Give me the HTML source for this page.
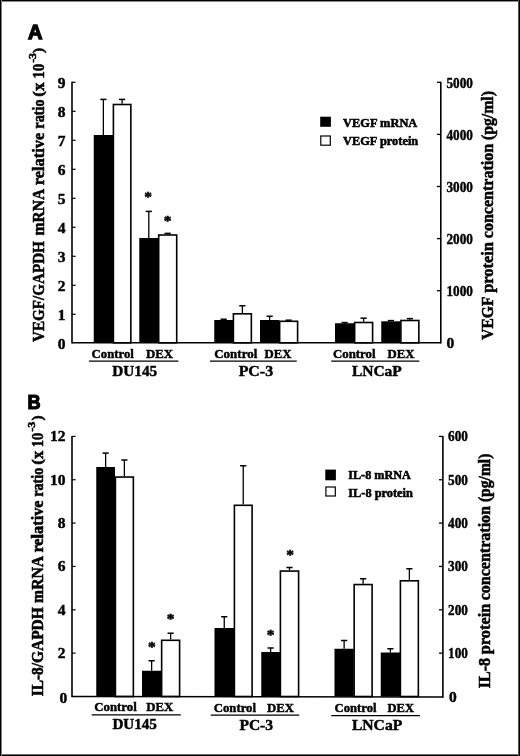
<!DOCTYPE html>
<html lang="en"><head><meta charset="utf-8"><title>Figure</title>
<style>html,body{margin:0;padding:0;background:#fff}svg{display:block;filter:grayscale(1)}text{fill:#000;stroke:#000;stroke-width:0.45px}</style></head><body>
<svg width="520" height="756" viewBox="0 0 520 756">
<rect x="0" y="0" width="520" height="756" fill="#fff"/>
<line x1="103.375" y1="99.4" x2="103.375" y2="135" stroke="#000" stroke-width="1.3"/>
<line x1="100.275" y1="99.4" x2="106.475" y2="99.4" stroke="#000" stroke-width="1.5"/>
<line x1="122.125" y1="99.4" x2="122.125" y2="103.7" stroke="#000" stroke-width="1.3"/>
<line x1="119.025" y1="99.4" x2="125.225" y2="99.4" stroke="#000" stroke-width="1.5"/>
<rect x="93.75" y="135" width="19.25" height="207.8" fill="#000"/>
<rect x="113.4" y="104.5" width="17.45" height="238.3" fill="#fff" stroke="#000" stroke-width="1.6"/>
<line x1="148.8" y1="211.4" x2="148.8" y2="238" stroke="#000" stroke-width="1.3"/>
<line x1="145.70000000000002" y1="211.4" x2="151.9" y2="211.4" stroke="#000" stroke-width="1.5"/>
<line x1="167.7" y1="233.4" x2="167.7" y2="234.2" stroke="#000" stroke-width="1.3"/>
<line x1="164.6" y1="233.4" x2="170.79999999999998" y2="233.4" stroke="#000" stroke-width="1.5"/>
<rect x="139.3" y="238" width="19.0" height="104.8" fill="#000"/>
<rect x="158.7" y="235.0" width="18.0" height="107.8" fill="#fff" stroke="#000" stroke-width="1.6"/>
<line x1="223.625" y1="319.25" x2="223.625" y2="320" stroke="#000" stroke-width="1.3"/>
<line x1="220.525" y1="319.25" x2="226.725" y2="319.25" stroke="#000" stroke-width="1.5"/>
<line x1="242.375" y1="305.75" x2="242.375" y2="313" stroke="#000" stroke-width="1.3"/>
<line x1="239.275" y1="305.75" x2="245.475" y2="305.75" stroke="#000" stroke-width="1.5"/>
<rect x="214.25" y="320" width="18.75" height="22.8" fill="#000"/>
<rect x="233.4" y="313.8" width="17.95" height="29.0" fill="#fff" stroke="#000" stroke-width="1.6"/>
<line x1="269.625" y1="316.25" x2="269.625" y2="320" stroke="#000" stroke-width="1.3"/>
<line x1="266.525" y1="316.25" x2="272.725" y2="316.25" stroke="#000" stroke-width="1.5"/>
<line x1="285.525" y1="320.2" x2="291.725" y2="320.2" stroke="#000" stroke-width="1.5"/>
<rect x="260" y="320" width="19.25" height="22.8" fill="#000"/>
<rect x="279.65" y="321.3" width="17.95" height="21.5" fill="#fff" stroke="#000" stroke-width="1.6"/>
<line x1="344.625" y1="322.6" x2="344.625" y2="323.25" stroke="#000" stroke-width="1.3"/>
<line x1="341.525" y1="322.6" x2="347.725" y2="322.6" stroke="#000" stroke-width="1.5"/>
<line x1="363.625" y1="318.2" x2="363.625" y2="321.7" stroke="#000" stroke-width="1.3"/>
<line x1="360.525" y1="318.2" x2="366.725" y2="318.2" stroke="#000" stroke-width="1.5"/>
<rect x="335" y="323.25" width="19.25" height="19.55" fill="#000"/>
<rect x="354.65" y="322.5" width="17.95" height="20.3" fill="#fff" stroke="#000" stroke-width="1.6"/>
<line x1="390.875" y1="320.6" x2="390.875" y2="321.3" stroke="#000" stroke-width="1.3"/>
<line x1="387.775" y1="320.6" x2="393.975" y2="320.6" stroke="#000" stroke-width="1.5"/>
<line x1="409.875" y1="318.6" x2="409.875" y2="319.7" stroke="#000" stroke-width="1.3"/>
<line x1="406.775" y1="318.6" x2="412.975" y2="318.6" stroke="#000" stroke-width="1.5"/>
<rect x="381.25" y="321.3" width="19.25" height="21.5" fill="#000"/>
<rect x="400.9" y="320.5" width="17.95" height="22.3" fill="#fff" stroke="#000" stroke-width="1.6"/>
<line x1="72.0" y1="81.8" x2="72.0" y2="343.5" stroke="#000" stroke-width="1.6"/>
<line x1="440.8" y1="81.8" x2="440.8" y2="343.5" stroke="#000" stroke-width="1.6"/>
<line x1="72.0" y1="342.8" x2="440.8" y2="342.8" stroke="#000" stroke-width="1.5"/>
<text x="65.5" y="349.29" font-family="'Liberation Serif','DejaVu Serif',serif" font-size="15.5" font-weight="bold" text-anchor="end" >0</text>
<line x1="72.0" y1="314.3" x2="75.6" y2="314.3" stroke="#000" stroke-width="1.2"/>
<text x="65.5" y="320.23" font-family="'Liberation Serif','DejaVu Serif',serif" font-size="15.5" font-weight="bold" text-anchor="end" >1</text>
<line x1="72.0" y1="285.3" x2="75.6" y2="285.3" stroke="#000" stroke-width="1.2"/>
<text x="65.5" y="291.17" font-family="'Liberation Serif','DejaVu Serif',serif" font-size="15.5" font-weight="bold" text-anchor="end" >2</text>
<line x1="72.0" y1="256.3" x2="75.6" y2="256.3" stroke="#000" stroke-width="1.2"/>
<text x="65.5" y="262.11" font-family="'Liberation Serif','DejaVu Serif',serif" font-size="15.5" font-weight="bold" text-anchor="end" >3</text>
<line x1="72.0" y1="227.3" x2="75.6" y2="227.3" stroke="#000" stroke-width="1.2"/>
<text x="65.5" y="233.05" font-family="'Liberation Serif','DejaVu Serif',serif" font-size="15.5" font-weight="bold" text-anchor="end" >4</text>
<line x1="72.0" y1="198.3" x2="75.6" y2="198.3" stroke="#000" stroke-width="1.2"/>
<text x="65.5" y="203.99" font-family="'Liberation Serif','DejaVu Serif',serif" font-size="15.5" font-weight="bold" text-anchor="end" >5</text>
<line x1="72.0" y1="169.3" x2="75.6" y2="169.3" stroke="#000" stroke-width="1.2"/>
<text x="65.5" y="174.93" font-family="'Liberation Serif','DejaVu Serif',serif" font-size="15.5" font-weight="bold" text-anchor="end" >6</text>
<line x1="72.0" y1="140.3" x2="75.6" y2="140.3" stroke="#000" stroke-width="1.2"/>
<text x="65.5" y="145.87" font-family="'Liberation Serif','DejaVu Serif',serif" font-size="15.5" font-weight="bold" text-anchor="end" >7</text>
<line x1="72.0" y1="111.30000000000001" x2="75.6" y2="111.30000000000001" stroke="#000" stroke-width="1.2"/>
<text x="65.5" y="116.81" font-family="'Liberation Serif','DejaVu Serif',serif" font-size="15.5" font-weight="bold" text-anchor="end" >8</text>
<line x1="72.0" y1="82.30000000000001" x2="75.6" y2="82.30000000000001" stroke="#000" stroke-width="1.2"/>
<text x="65.5" y="87.75" font-family="'Liberation Serif','DejaVu Serif',serif" font-size="15.5" font-weight="bold" text-anchor="end" >9</text>
<text x="446.5" y="348.0" font-family="'Liberation Serif','DejaVu Serif',serif" font-size="15.5" font-weight="bold" text-anchor="start" >0</text>
<line x1="436.90000000000003" y1="290.7" x2="440.8" y2="290.7" stroke="#000" stroke-width="1.3"/>
<text x="446.5" y="295.9" font-family="'Liberation Serif','DejaVu Serif',serif" font-size="15.5" font-weight="bold" text-anchor="start" textLength="26.4" lengthAdjust="spacingAndGlyphs" >1000</text>
<line x1="436.90000000000003" y1="238.60000000000002" x2="440.8" y2="238.60000000000002" stroke="#000" stroke-width="1.3"/>
<text x="446.5" y="243.8" font-family="'Liberation Serif','DejaVu Serif',serif" font-size="15.5" font-weight="bold" text-anchor="start" textLength="26.4" lengthAdjust="spacingAndGlyphs" >2000</text>
<line x1="436.90000000000003" y1="186.5" x2="440.8" y2="186.5" stroke="#000" stroke-width="1.3"/>
<text x="446.5" y="191.7" font-family="'Liberation Serif','DejaVu Serif',serif" font-size="15.5" font-weight="bold" text-anchor="start" textLength="26.4" lengthAdjust="spacingAndGlyphs" >3000</text>
<line x1="436.90000000000003" y1="134.4" x2="440.8" y2="134.4" stroke="#000" stroke-width="1.3"/>
<text x="446.5" y="139.6" font-family="'Liberation Serif','DejaVu Serif',serif" font-size="15.5" font-weight="bold" text-anchor="start" textLength="26.4" lengthAdjust="spacingAndGlyphs" >4000</text>
<line x1="436.90000000000003" y1="82.30000000000001" x2="440.8" y2="82.30000000000001" stroke="#000" stroke-width="1.3"/>
<text x="446.5" y="87.5" font-family="'Liberation Serif','DejaVu Serif',serif" font-size="15.5" font-weight="bold" text-anchor="start" textLength="26.4" lengthAdjust="spacingAndGlyphs" >5000</text>
<text x="91.6" y="357.7" font-family="'Liberation Serif','DejaVu Serif',serif" font-size="13.3" font-weight="bold" text-anchor="start" textLength="42.3" lengthAdjust="spacingAndGlyphs" style="stroke-width:0.45px">Control</text>
<text x="146" y="357.7" font-family="'Liberation Serif','DejaVu Serif',serif" font-size="13.3" font-weight="bold" text-anchor="start" textLength="27.099999999999998" lengthAdjust="spacingAndGlyphs" style="stroke-width:0.45px">DEX</text>
<line x1="88.9" y1="361.1" x2="178.4" y2="361.1" stroke="#000" stroke-width="1.3"/>
<text x="112.2" y="375.6" font-family="'Liberation Serif','DejaVu Serif',serif" font-size="15.0" font-weight="bold" text-anchor="start" textLength="45.0" lengthAdjust="spacingAndGlyphs" style="stroke-width:0.45px">DU145</text>
<text x="214.25" y="357.7" font-family="'Liberation Serif','DejaVu Serif',serif" font-size="13.3" font-weight="bold" text-anchor="start" textLength="43" lengthAdjust="spacingAndGlyphs" style="stroke-width:0.45px">Control</text>
<text x="264.5" y="357.7" font-family="'Liberation Serif','DejaVu Serif',serif" font-size="13.3" font-weight="bold" text-anchor="start" textLength="27.0" lengthAdjust="spacingAndGlyphs" style="stroke-width:0.45px">DEX</text>
<line x1="210" y1="361.1" x2="296.75" y2="361.1" stroke="#000" stroke-width="1.3"/>
<text x="238.65" y="375.6" font-family="'Liberation Serif','DejaVu Serif',serif" font-size="15.0" font-weight="bold" text-anchor="start" textLength="34.45" lengthAdjust="spacingAndGlyphs" style="stroke-width:0.45px">PC-3</text>
<text x="333" y="357.7" font-family="'Liberation Serif','DejaVu Serif',serif" font-size="13.3" font-weight="bold" text-anchor="start" textLength="42.5" lengthAdjust="spacingAndGlyphs" style="stroke-width:0.45px">Control</text>
<text x="387.5" y="357.7" font-family="'Liberation Serif','DejaVu Serif',serif" font-size="13.3" font-weight="bold" text-anchor="start" textLength="27.0" lengthAdjust="spacingAndGlyphs" style="stroke-width:0.45px">DEX</text>
<line x1="331.25" y1="361.1" x2="419.25" y2="361.1" stroke="#000" stroke-width="1.3"/>
<text x="351.9" y="375.6" font-family="'Liberation Serif','DejaVu Serif',serif" font-size="15.0" font-weight="bold" text-anchor="start" textLength="49.95" lengthAdjust="spacingAndGlyphs" style="stroke-width:0.45px">LNCaP</text>
<text x="148.2" y="202.0" font-family="'Liberation Serif','DejaVu Serif',serif" font-size="15.5" font-weight="bold" text-anchor="middle" style="stroke-width:0.5px">*</text>
<text x="167.7" y="225.89999999999998" font-family="'Liberation Serif','DejaVu Serif',serif" font-size="15.5" font-weight="bold" text-anchor="middle" style="stroke-width:0.5px">*</text>
<rect x="320.2" y="116.7" width="10.7" height="10.1" fill="#000"/>
<rect x="320.8" y="136.0" width="9.5" height="9.2" fill="#fff" stroke="#000" stroke-width="1.2"/>
<text x="343" y="127.1" font-family="'Liberation Serif','DejaVu Serif',serif" font-size="13.5" font-weight="bold" text-anchor="start" textLength="74.3" lengthAdjust="spacingAndGlyphs" style="stroke-width:0.55px">VEGF mRNA</text>
<text x="343" y="145.1" font-family="'Liberation Serif','DejaVu Serif',serif" font-size="13.5" font-weight="bold" text-anchor="start" textLength="75.2" lengthAdjust="spacingAndGlyphs" style="stroke-width:0.55px">VEGF protein</text>
<text transform="translate(43.8,341.9) rotate(-90)" font-family="'Liberation Serif','DejaVu Serif',serif" font-size="17" font-weight="bold" text-anchor="start" textLength="100.7" lengthAdjust="spacingAndGlyphs" style="stroke-width:0.55px">VEGF/GAPDH</text>
<text transform="translate(43.8,235.4) rotate(-90)" font-family="'Liberation Serif','DejaVu Serif',serif" font-size="17" font-weight="bold" text-anchor="start" textLength="46.6" lengthAdjust="spacingAndGlyphs" style="stroke-width:0.55px">mRNA</text>
<text transform="translate(43.8,185.3) rotate(-90)" font-family="'Liberation Serif','DejaVu Serif',serif" font-size="17" font-weight="bold" text-anchor="start" textLength="52.5" lengthAdjust="spacingAndGlyphs" style="stroke-width:0.55px">relative</text>
<text transform="translate(43.8,128.7) rotate(-90)" font-family="'Liberation Serif','DejaVu Serif',serif" font-size="17" font-weight="bold" text-anchor="start" textLength="29.4" lengthAdjust="spacingAndGlyphs" style="stroke-width:0.55px">ratio</text>
<text transform="translate(43.05,96.7) rotate(-90)" font-family="'Liberation Serif','DejaVu Serif',serif" font-size="14.5" font-weight="bold" text-anchor="start" textLength="5.6" lengthAdjust="spacingAndGlyphs" style="stroke-width:0.55px">(</text>
<text transform="translate(43.8,91.1) rotate(-90)" font-family="'Liberation Serif','DejaVu Serif',serif" font-size="17" font-weight="bold" text-anchor="start" textLength="8.5" lengthAdjust="spacingAndGlyphs" style="stroke-width:0.55px">x</text>
<text transform="translate(43.8,78.8) rotate(-90)" font-family="'Liberation Serif','DejaVu Serif',serif" font-size="17" font-weight="bold" text-anchor="start" textLength="14.9" lengthAdjust="spacingAndGlyphs" style="stroke-width:0.55px">10</text>
<text transform="translate(36.0,62.8) rotate(-90)" font-family="'Liberation Serif','DejaVu Serif',serif" font-size="11" font-weight="bold" text-anchor="start" textLength="9.8" lengthAdjust="spacingAndGlyphs" style="stroke-width:0.55px">-3</text>
<text transform="translate(43.05,53.0) rotate(-90)" font-family="'Liberation Serif','DejaVu Serif',serif" font-size="14.5" font-weight="bold" text-anchor="start" textLength="5.2" lengthAdjust="spacingAndGlyphs" style="stroke-width:0.55px">)</text>
<text transform="translate(493.2,339.8) rotate(-90)" font-family="'Liberation Serif','DejaVu Serif',serif" font-size="17.5" font-weight="bold" text-anchor="start" textLength="43.3" lengthAdjust="spacingAndGlyphs" style="stroke-width:0.55px">VEGF</text>
<text transform="translate(493.2,292.8) rotate(-90)" font-family="'Liberation Serif','DejaVu Serif',serif" font-size="17.5" font-weight="bold" text-anchor="start" textLength="50.8" lengthAdjust="spacingAndGlyphs" style="stroke-width:0.55px">protein</text>
<text transform="translate(493.2,238.2) rotate(-90)" font-family="'Liberation Serif','DejaVu Serif',serif" font-size="17.5" font-weight="bold" text-anchor="start" textLength="94.3" lengthAdjust="spacingAndGlyphs" style="stroke-width:0.55px">concentration</text>
<text transform="translate(493.2,140.1) rotate(-90)" font-family="'Liberation Serif','DejaVu Serif',serif" font-size="17.5" font-weight="bold" text-anchor="start" textLength="49.1" lengthAdjust="spacingAndGlyphs" style="stroke-width:0.55px">(pg/ml)</text>
<text x="28.0" y="39.4" font-family="'Liberation Sans','DejaVu Sans',sans-serif" font-size="20" font-weight="bold" text-anchor="start" style="stroke-width:1.3px">A</text>
<line x1="105.625" y1="453.1" x2="105.625" y2="467" stroke="#000" stroke-width="1.3"/>
<line x1="102.525" y1="453.1" x2="108.725" y2="453.1" stroke="#000" stroke-width="1.5"/>
<line x1="124.375" y1="460.0" x2="124.375" y2="476.25" stroke="#000" stroke-width="1.3"/>
<line x1="121.275" y1="460.0" x2="127.475" y2="460.0" stroke="#000" stroke-width="1.5"/>
<rect x="96.25" y="467" width="18.75" height="229.5" fill="#000"/>
<rect x="115.4" y="477.05" width="17.95" height="219.45" fill="#fff" stroke="#000" stroke-width="1.6"/>
<line x1="151.625" y1="660.75" x2="151.625" y2="670.75" stroke="#000" stroke-width="1.3"/>
<line x1="148.525" y1="660.75" x2="154.725" y2="660.75" stroke="#000" stroke-width="1.5"/>
<line x1="170.625" y1="633.25" x2="170.625" y2="639.5" stroke="#000" stroke-width="1.3"/>
<line x1="167.525" y1="633.25" x2="173.725" y2="633.25" stroke="#000" stroke-width="1.5"/>
<rect x="142" y="670.75" width="19.25" height="25.75" fill="#000"/>
<rect x="161.65" y="640.3" width="17.95" height="56.2" fill="#fff" stroke="#000" stroke-width="1.6"/>
<line x1="224.25" y1="616.75" x2="224.25" y2="628" stroke="#000" stroke-width="1.3"/>
<line x1="221.15" y1="616.75" x2="227.35" y2="616.75" stroke="#000" stroke-width="1.5"/>
<line x1="243.25" y1="465.75" x2="243.25" y2="504.5" stroke="#000" stroke-width="1.3"/>
<line x1="240.15" y1="465.75" x2="246.35" y2="465.75" stroke="#000" stroke-width="1.5"/>
<rect x="214.5" y="628" width="19.5" height="68.5" fill="#000"/>
<rect x="234.4" y="505.3" width="17.7" height="191.2" fill="#fff" stroke="#000" stroke-width="1.6"/>
<line x1="270.625" y1="648" x2="270.625" y2="652" stroke="#000" stroke-width="1.3"/>
<line x1="267.525" y1="648" x2="273.725" y2="648" stroke="#000" stroke-width="1.5"/>
<line x1="289.5" y1="567.5" x2="289.5" y2="570.25" stroke="#000" stroke-width="1.3"/>
<line x1="286.4" y1="567.5" x2="292.6" y2="567.5" stroke="#000" stroke-width="1.5"/>
<rect x="261.25" y="652" width="18.75" height="44.5" fill="#000"/>
<rect x="280.4" y="571.05" width="18.2" height="125.45" fill="#fff" stroke="#000" stroke-width="1.6"/>
<line x1="344.125" y1="640.5" x2="344.125" y2="648.75" stroke="#000" stroke-width="1.3"/>
<line x1="341.025" y1="640.5" x2="347.225" y2="640.5" stroke="#000" stroke-width="1.5"/>
<line x1="363.125" y1="578.75" x2="363.125" y2="583.75" stroke="#000" stroke-width="1.3"/>
<line x1="360.025" y1="578.75" x2="366.225" y2="578.75" stroke="#000" stroke-width="1.5"/>
<rect x="334.5" y="648.75" width="19.25" height="47.75" fill="#000"/>
<rect x="354.15" y="584.55" width="17.95" height="111.95" fill="#fff" stroke="#000" stroke-width="1.6"/>
<line x1="390.375" y1="648.75" x2="390.375" y2="652.5" stroke="#000" stroke-width="1.3"/>
<line x1="387.275" y1="648.75" x2="393.475" y2="648.75" stroke="#000" stroke-width="1.5"/>
<line x1="409.375" y1="568.75" x2="409.375" y2="580" stroke="#000" stroke-width="1.3"/>
<line x1="406.275" y1="568.75" x2="412.475" y2="568.75" stroke="#000" stroke-width="1.5"/>
<rect x="380.75" y="652.5" width="19.25" height="44.0" fill="#000"/>
<rect x="400.4" y="580.8" width="17.95" height="115.7" fill="#fff" stroke="#000" stroke-width="1.6"/>
<line x1="72.0" y1="435.9" x2="72.0" y2="697.2" stroke="#000" stroke-width="1.6"/>
<line x1="442.9" y1="435.9" x2="442.9" y2="697.8000000000001" stroke="#000" stroke-width="1.6"/>
<line x1="72.0" y1="696.5" x2="442.9" y2="697.1" stroke="#000" stroke-width="1.5"/>
<text x="67.2" y="702.5" font-family="'Liberation Serif','DejaVu Serif',serif" font-size="15.5" font-weight="bold" text-anchor="end" >0</text>
<line x1="72.0" y1="653.15" x2="75.6" y2="653.15" stroke="#000" stroke-width="1.2"/>
<text x="65.5" y="658.15" font-family="'Liberation Serif','DejaVu Serif',serif" font-size="15.5" font-weight="bold" text-anchor="end" >2</text>
<line x1="72.0" y1="609.8" x2="75.6" y2="609.8" stroke="#000" stroke-width="1.2"/>
<text x="65.5" y="614.8" font-family="'Liberation Serif','DejaVu Serif',serif" font-size="15.5" font-weight="bold" text-anchor="end" >4</text>
<line x1="72.0" y1="566.45" x2="75.6" y2="566.45" stroke="#000" stroke-width="1.2"/>
<text x="65.5" y="571.45" font-family="'Liberation Serif','DejaVu Serif',serif" font-size="15.5" font-weight="bold" text-anchor="end" >6</text>
<line x1="72.0" y1="523.1" x2="75.6" y2="523.1" stroke="#000" stroke-width="1.2"/>
<text x="65.5" y="528.1" font-family="'Liberation Serif','DejaVu Serif',serif" font-size="15.5" font-weight="bold" text-anchor="end" >8</text>
<line x1="72.0" y1="479.75" x2="75.6" y2="479.75" stroke="#000" stroke-width="1.2"/>
<text x="65.5" y="484.75" font-family="'Liberation Serif','DejaVu Serif',serif" font-size="15.5" font-weight="bold" text-anchor="end" >10</text>
<line x1="72.0" y1="436.4" x2="75.6" y2="436.4" stroke="#000" stroke-width="1.2"/>
<text x="65.5" y="441.4" font-family="'Liberation Serif','DejaVu Serif',serif" font-size="15.5" font-weight="bold" text-anchor="end" >12</text>
<text x="449.1" y="702.0" font-family="'Liberation Serif','DejaVu Serif',serif" font-size="15.5" font-weight="bold" text-anchor="start" >0</text>
<line x1="439.0" y1="653.15" x2="442.9" y2="653.15" stroke="#000" stroke-width="1.3"/>
<text x="448.1" y="658.15" font-family="'Liberation Serif','DejaVu Serif',serif" font-size="15.5" font-weight="bold" text-anchor="start" textLength="19.8" lengthAdjust="spacingAndGlyphs" >100</text>
<line x1="439.0" y1="609.8" x2="442.9" y2="609.8" stroke="#000" stroke-width="1.3"/>
<text x="448.1" y="614.8" font-family="'Liberation Serif','DejaVu Serif',serif" font-size="15.5" font-weight="bold" text-anchor="start" textLength="19.8" lengthAdjust="spacingAndGlyphs" >200</text>
<line x1="439.0" y1="566.45" x2="442.9" y2="566.45" stroke="#000" stroke-width="1.3"/>
<text x="448.1" y="571.45" font-family="'Liberation Serif','DejaVu Serif',serif" font-size="15.5" font-weight="bold" text-anchor="start" textLength="19.8" lengthAdjust="spacingAndGlyphs" >300</text>
<line x1="439.0" y1="523.1" x2="442.9" y2="523.1" stroke="#000" stroke-width="1.3"/>
<text x="448.1" y="528.1" font-family="'Liberation Serif','DejaVu Serif',serif" font-size="15.5" font-weight="bold" text-anchor="start" textLength="19.8" lengthAdjust="spacingAndGlyphs" >400</text>
<line x1="439.0" y1="479.75" x2="442.9" y2="479.75" stroke="#000" stroke-width="1.3"/>
<text x="448.1" y="484.75" font-family="'Liberation Serif','DejaVu Serif',serif" font-size="15.5" font-weight="bold" text-anchor="start" textLength="19.8" lengthAdjust="spacingAndGlyphs" >500</text>
<line x1="439.0" y1="436.4" x2="442.9" y2="436.4" stroke="#000" stroke-width="1.3"/>
<text x="448.1" y="441.4" font-family="'Liberation Serif','DejaVu Serif',serif" font-size="15.5" font-weight="bold" text-anchor="start" textLength="19.8" lengthAdjust="spacingAndGlyphs" >600</text>
<text x="94.25" y="711.4" font-family="'Liberation Serif','DejaVu Serif',serif" font-size="13.3" font-weight="bold" text-anchor="start" textLength="42.5" lengthAdjust="spacingAndGlyphs" style="stroke-width:0.45px">Control</text>
<text x="146.25" y="711.4" font-family="'Liberation Serif','DejaVu Serif',serif" font-size="13.3" font-weight="bold" text-anchor="start" textLength="27.0" lengthAdjust="spacingAndGlyphs" style="stroke-width:0.45px">DEX</text>
<line x1="91.75" y1="714.8" x2="180.75" y2="714.8" stroke="#000" stroke-width="1.3"/>
<text x="112.4" y="729.3" font-family="'Liberation Serif','DejaVu Serif',serif" font-size="15.0" font-weight="bold" text-anchor="start" textLength="44.5" lengthAdjust="spacingAndGlyphs" style="stroke-width:0.45px">DU145</text>
<text x="213.75" y="711.8" font-family="'Liberation Serif','DejaVu Serif',serif" font-size="13.3" font-weight="bold" text-anchor="start" textLength="42.3" lengthAdjust="spacingAndGlyphs" style="stroke-width:0.45px">Control</text>
<text x="267" y="711.8" font-family="'Liberation Serif','DejaVu Serif',serif" font-size="13.3" font-weight="bold" text-anchor="start" textLength="27.0" lengthAdjust="spacingAndGlyphs" style="stroke-width:0.45px">DEX</text>
<line x1="210.75" y1="715.1999999999999" x2="299.25" y2="715.1999999999999" stroke="#000" stroke-width="1.3"/>
<text x="239.4" y="729.6999999999999" font-family="'Liberation Serif','DejaVu Serif',serif" font-size="15.0" font-weight="bold" text-anchor="start" textLength="33.7" lengthAdjust="spacingAndGlyphs" style="stroke-width:0.45px">PC-3</text>
<text x="334.5" y="712.3" font-family="'Liberation Serif','DejaVu Serif',serif" font-size="13.3" font-weight="bold" text-anchor="start" textLength="42" lengthAdjust="spacingAndGlyphs" style="stroke-width:0.45px">Control</text>
<text x="387.5" y="712.3" font-family="'Liberation Serif','DejaVu Serif',serif" font-size="13.3" font-weight="bold" text-anchor="start" textLength="26.5" lengthAdjust="spacingAndGlyphs" style="stroke-width:0.45px">DEX</text>
<line x1="331.25" y1="715.6999999999999" x2="420" y2="715.6999999999999" stroke="#000" stroke-width="1.3"/>
<text x="351.9" y="730.1999999999999" font-family="'Liberation Serif','DejaVu Serif',serif" font-size="15.0" font-weight="bold" text-anchor="start" textLength="50.400000000000006" lengthAdjust="spacingAndGlyphs" style="stroke-width:0.45px">LNCaP</text>
<text x="151.75" y="651.7" font-family="'Liberation Serif','DejaVu Serif',serif" font-size="15.5" font-weight="bold" text-anchor="middle" style="stroke-width:0.5px">*</text>
<text x="170.5" y="624.2" font-family="'Liberation Serif','DejaVu Serif',serif" font-size="15.5" font-weight="bold" text-anchor="middle" style="stroke-width:0.5px">*</text>
<text x="270.5" y="639.7" font-family="'Liberation Serif','DejaVu Serif',serif" font-size="15.5" font-weight="bold" text-anchor="middle" style="stroke-width:0.5px">*</text>
<text x="290" y="559.7" font-family="'Liberation Serif','DejaVu Serif',serif" font-size="15.5" font-weight="bold" text-anchor="middle" style="stroke-width:0.5px">*</text>
<rect x="325.3" y="469.6" width="10.6" height="10.7" fill="#000"/>
<rect x="325.9" y="487.0" width="9.4" height="9.0" fill="#fff" stroke="#000" stroke-width="1.2"/>
<text x="348.25" y="479.3" font-family="'Liberation Serif','DejaVu Serif',serif" font-size="13.5" font-weight="bold" text-anchor="start" textLength="62.6" lengthAdjust="spacingAndGlyphs" style="stroke-width:0.55px">IL-8 mRNA</text>
<text x="348.25" y="496.8" font-family="'Liberation Serif','DejaVu Serif',serif" font-size="13.5" font-weight="bold" text-anchor="start" textLength="64.6" lengthAdjust="spacingAndGlyphs" style="stroke-width:0.55px">IL-8 protein</text>
<text transform="translate(42.7,696.3) rotate(-90)" font-family="'Liberation Serif','DejaVu Serif',serif" font-size="17" font-weight="bold" text-anchor="start" textLength="89.0" lengthAdjust="spacingAndGlyphs" style="stroke-width:0.55px">IL-8/GAPDH</text>
<text transform="translate(42.7,602.9) rotate(-90)" font-family="'Liberation Serif','DejaVu Serif',serif" font-size="17" font-weight="bold" text-anchor="start" textLength="47.1" lengthAdjust="spacingAndGlyphs" style="stroke-width:0.55px">mRNA</text>
<text transform="translate(42.7,552.6) rotate(-90)" font-family="'Liberation Serif','DejaVu Serif',serif" font-size="17" font-weight="bold" text-anchor="start" textLength="52.2" lengthAdjust="spacingAndGlyphs" style="stroke-width:0.55px">relative</text>
<text transform="translate(42.7,496.8) rotate(-90)" font-family="'Liberation Serif','DejaVu Serif',serif" font-size="17" font-weight="bold" text-anchor="start" textLength="29.0" lengthAdjust="spacingAndGlyphs" style="stroke-width:0.55px">ratio</text>
<text transform="translate(41.95,464.7) rotate(-90)" font-family="'Liberation Serif','DejaVu Serif',serif" font-size="14.5" font-weight="bold" text-anchor="start" textLength="5.6" lengthAdjust="spacingAndGlyphs" style="stroke-width:0.55px">(</text>
<text transform="translate(42.7,459.1) rotate(-90)" font-family="'Liberation Serif','DejaVu Serif',serif" font-size="17" font-weight="bold" text-anchor="start" textLength="8.2" lengthAdjust="spacingAndGlyphs" style="stroke-width:0.55px">x</text>
<text transform="translate(42.7,447.2) rotate(-90)" font-family="'Liberation Serif','DejaVu Serif',serif" font-size="17" font-weight="bold" text-anchor="start" textLength="14.5" lengthAdjust="spacingAndGlyphs" style="stroke-width:0.55px">10</text>
<text transform="translate(34.9,431.7) rotate(-90)" font-family="'Liberation Serif','DejaVu Serif',serif" font-size="11" font-weight="bold" text-anchor="start" textLength="10.1" lengthAdjust="spacingAndGlyphs" style="stroke-width:0.55px">-3</text>
<text transform="translate(41.95,420.6) rotate(-90)" font-family="'Liberation Serif','DejaVu Serif',serif" font-size="14.5" font-weight="bold" text-anchor="start" textLength="5.2" lengthAdjust="spacingAndGlyphs" style="stroke-width:0.55px">)</text>
<text transform="translate(490.0,688.3) rotate(-90)" font-family="'Liberation Serif','DejaVu Serif',serif" font-size="17.5" font-weight="bold" text-anchor="start" textLength="30.4" lengthAdjust="spacingAndGlyphs" style="stroke-width:0.55px">IL-8</text>
<text transform="translate(490.0,654.3) rotate(-90)" font-family="'Liberation Serif','DejaVu Serif',serif" font-size="17.5" font-weight="bold" text-anchor="start" textLength="50.6" lengthAdjust="spacingAndGlyphs" style="stroke-width:0.55px">protein</text>
<text transform="translate(490.0,600.3) rotate(-90)" font-family="'Liberation Serif','DejaVu Serif',serif" font-size="17.5" font-weight="bold" text-anchor="start" textLength="94.3" lengthAdjust="spacingAndGlyphs" style="stroke-width:0.55px">concentration</text>
<text transform="translate(490.0,502.1) rotate(-90)" font-family="'Liberation Serif','DejaVu Serif',serif" font-size="17.5" font-weight="bold" text-anchor="start" textLength="48.5" lengthAdjust="spacingAndGlyphs" style="stroke-width:0.55px">(pg/ml)</text>
<text x="27.6" y="408.8" font-family="'Liberation Sans','DejaVu Sans',sans-serif" font-size="20" font-weight="bold" text-anchor="start" textLength="13.1" lengthAdjust="spacingAndGlyphs" style="stroke-width:1.2px">B</text>
<rect x="0" y="0" width="520" height="1" fill="#000"/><rect x="0" y="1" width="520" height="1" fill="#8a8a8a"/>
<rect x="0" y="755" width="520" height="1" fill="#000"/><rect x="0" y="754" width="520" height="1" fill="#6a6a6a"/>
<rect x="0" y="0" width="1" height="756" fill="#000"/><rect x="1" y="0" width="1" height="756" fill="#808080"/>
<rect x="519" y="0" width="1" height="756" fill="#000"/><rect x="518" y="0" width="1" height="756" fill="#555"/>
</svg></body></html>
